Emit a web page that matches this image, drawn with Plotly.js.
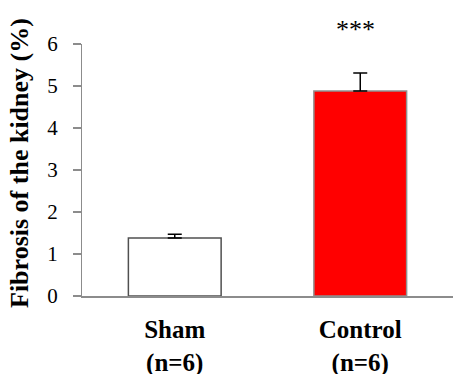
<!DOCTYPE html>
<html>
<head>
<meta charset="utf-8">
<script src="https://cdn.plot.ly/plotly-3.0.1.min.js"></script>
<style>
html,body{margin:0;padding:0;background:#fff;}
#chart{width:453px;height:374px;}
#fontwarm{position:absolute;left:-9999px;top:0;font-family:'Liberation Serif';font-size:20px;}
</style>
</head>
<body>
<div id="fontwarm" aria-hidden="true">Serif 0123456 <b>Serif (n=6) ***</b></div>
<div id="chart"></div>
<script>
// Data
var categories = ["Sham", "Control"];
var groupSizes = ["(n=6)", "(n=6)"];
var fibrosis = [1.38, 4.88];
var sem = [0.09, 0.43];
var significance = ["", "***"];
var barColors = ["#ffffff", "#ff0000"];
var barEdges = ["#505050", "#909090"];

var FONT = "Liberation Serif";

var tickText = categories.map(function(c, i){ return "<b>" + c + "</b><br><b>" + groupSizes[i] + "</b>"; });

var trace = {
  type: "bar", x: categories, y: fibrosis, width: 0.5,
  marker: {color: barColors, line: {color: barEdges, width: 1.5}},
  error_y: {type: "data", array: sem, symmetric: false, arrayminus: [0,0], color: "#000", thickness: 1.5, width: 7},
  hoverinfo: "none"
};

var annotations = [];
categories.forEach(function(c, i){
  if (significance[i]) {
    annotations.push({
      x: c, y: fibrosis[i] + sem[i], xref: "x", yref: "y",
      text: significance[i], showarrow: false, yshift: 43, xshift: -5,
      font: {family: FONT, size: 26, color: "#000"}
    });
  }
});
annotations.push({
  xref: "paper", yref: "paper", x: -0.167, y: 0.528,
  xanchor: "center", yanchor: "middle", textangle: -90,
  text: "<b>Fibrosis of the kidney (%)</b>", showarrow: false,
  font: {family: FONT, size: 26, color: "#000"}
});

var layout = {
  width: 453, height: 374,
  margin: {l: 82, r: 0, t: 44, b: 78},
  showlegend: false,
  font: {family: FONT, color: "#000"},
  xaxis: {type: "category", range: [-0.5, 1.5], tickvals: categories, ticktext: tickText,
    showline: true, linecolor: "#8c8c8c", linewidth: 2,
    ticks: "outside", ticklen: 10, tickcolor: "rgba(0,0,0,0)",
    showgrid: false, zeroline: false,
    tickfont: {family: FONT, size: 25, color: "#000"}},
  yaxis: {range: [0, 6], dtick: 1, showline: true, linecolor: "#8c8c8c", linewidth: 1.5,
    ticks: "outside", ticklen: 8, tickcolor: "#8c8c8c", tickwidth: 1.5,
    ticksuffix: "\u2002",
    showgrid: false, zeroline: false, tickfont: {family: FONT, size: 21, color: "#000"}},
  annotations: annotations
};

Plotly.newPlot("chart", [trace], layout, {displayModeBar: false, staticPlot: true});
</script>
</body>
</html>
